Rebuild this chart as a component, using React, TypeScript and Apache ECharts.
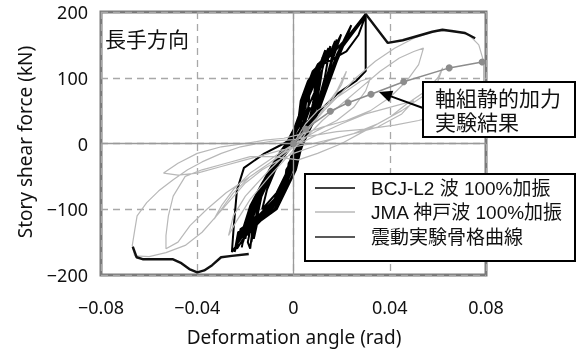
import React, { useEffect, useRef } from "react";
import * as echarts from "echarts";

// ---- data ----
const xTicks = [-0.08, -0.04, 0, 0.04, 0.08];
const yTicks = [-200, -100, 0, 100, 200];

const titleText = "長手方向";
const xTitle = "Deformation angle (rad)";
const yTitle = "Story shear force (kN)";
const legendNames = ["BCJ-L2 波 100%加振", "JMA 神戸波 100%加振", "震動実験骨格曲線"];
const calloutLines = ["軸組静的加力", "実験結果"];

// BCJ-L2 wave 100% (black hysteresis loops)
const bcjL2Data: number[][] = [
  [0, 0], [0.004, 25], [0.007, 55], [0.005, 35], [0, 5], [-0.006, -30], [-0.012, -70], [-0.017, -110], [-0.021, -140], [-0.0256, -165],
  [-0.0248, -125], [-0.0235, -71], [-0.0206, -37], [-0.012, -15], [-0.004, 0], [0.004, 20], [0.010, 60], [0.016, 110], [0.020, 145], [0.0297, 192],
  [0.027, 165], [0.022, 140], [0.012, 120], [0.007, 90], [0.006, 50], [0.002, 15], [-0.004, -15], [-0.010, -45], [-0.015, -80], [-0.019, -115], [-0.022, -145],
  [-0.019, -120], [-0.009, -95], [-0.003, -60], [0.001, -25], [0.004, 5], [0.010, 45], [0.014, 85], [0.018, 125], [0.022, 160], [0.030, 197],
  [0.030, 150], [0.030, 110], [0.026, 95], [0.018, 75], [0.011, 50], [0.005, 20], [-0.002, -10], [-0.008, -40], [-0.013, -75], [-0.017, -110], [-0.020, -140], [-0.0235, -160],
  [-0.022, -130], [-0.012, -105], [-0.006, -75], [-0.002, -45], [0, -15], [0.006, 15], [0.011, 55], [0.014, 95], [0.018, 135], [0.024, 180],
  [0.022, 160], [0.017, 140], [0.009, 110], [0.005, 70], [0.003, 30], [-0.002, 0], [-0.008, -30], [-0.013, -60], [-0.018, -95], [-0.021, -130], [-0.0245, -165],
  [-0.023, -135], [-0.016, -115], [-0.008, -85], [-0.003, -50], [-0.001, -20], [0.005, 10], [0.010, 45], [0.013, 85], [0.016, 125], [0.0198, 166],
  [0.017, 145], [0.010, 120], [0.006, 90], [0.005, 55], [0.001, 20], [-0.005, -10], [-0.010, -40], [-0.015, -75], [-0.019, -110], [-0.021, -150],
  [-0.019, -125], [-0.009, -100], [-0.004, -70], [0, -35], [0.002, -5], [0.008, 30], [0.012, 70], [0.015, 115], [0.0173, 156],
  [0.015, 135], [0.008, 110], [0.005, 80], [0.004, 45], [0, 10], [-0.006, -20], [-0.011, -50], [-0.016, -90], [-0.020, -130], [-0.0215, -158],
  [-0.020, -130], [-0.012, -110], [-0.006, -80], [-0.001, -45], [0.001, -10], [0.006, 20], [0.010, 60], [0.013, 100], [0.0153, 148],
  [0.013, 125], [0.007, 100], [0.004, 70], [0.003, 40], [-0.002, 5], [-0.007, -25], [-0.012, -55], [-0.016, -90], [-0.018, -130],
  [-0.012, -105], [-0.007, -80], [-0.002, -50], [0, -15], [0.005, 15], [0.009, 50], [0.011, 90], [0.0132, 142],
  [0.011, 120], [0.006, 95], [0.003, 65], [0.002, 35], [-0.003, 0], [-0.009, -35], [-0.014, -70], [-0.017, -105], [-0.019, -140],
  [-0.014, -115], [-0.008, -90], [-0.003, -60], [-0.002, -30], [0.003, 0], [0.007, 35], [0.009, 75], [0.0103, 122],
  [0.009, 105], [0.005, 80], [0.003, 50], [0, 20], [-0.005, -15], [-0.010, -45], [-0.014, -80], [-0.016, -120],
  [-0.010, -95], [-0.005, -70], [-0.001, -40], [0.001, -10], [0.005, 20], [0.008, 55], [0.010, 95], [0.012, 130],
  [0.010, 110], [0.006, 80], [0.004, 50], [0.001, 20], [-0.004, -10], [-0.009, -40], [-0.013, -75], [-0.015, -110], [-0.0165, -145],
  [-0.015, -120], [-0.008, -100], [-0.004, -75], [0, -45], [0.002, -15], [0.006, 15], [0.008, 50], [0.009, 90], [0.0095, 105],
  [0.008, 85], [0.005, 60], [0.002, 30], [-0.002, 0], [-0.007, -30], [-0.012, -65], [-0.015, -100], [-0.0175, -150],
  [-0.0165, -125], [-0.007, -100], [-0.003, -70], [0.001, -40], [0.003, -10], [0.006, 20], [0.009, 60], [0.011, 100], [0.014, 140], [0.0145, 145],
  [0.012, 125], [0.008, 95], [0.005, 60], [0.001, 25], [-0.004, -5], [-0.009, -35], [-0.014, -70], [-0.018, -105], [-0.020, -145],
  [-0.019, -120], [-0.011, -100], [-0.005, -75], [-0.001, -45], [0.001, -15], [0.006, 15], [0.010, 50], [0.013, 90], [0.016, 130], [0.018, 158],
  [0.016, 140], [0.010, 115], [0.006, 85], [0.004, 50], [0, 15], [-0.005, -15], [-0.010, -45], [-0.014, -80], [-0.017, -115], [-0.019, -150], [-0.018, -160],
  [-0.017, -130], [-0.009, -100], [-0.004, -70], [-0.003, -40], [0.002, -10], [0.006, 25], [0.008, 60], [0.009, 80],
  [0.006, 55], [0.002, 25], [-0.002, -5], [-0.007, -35], [-0.011, -70], [-0.013, -100],
  [-0.007, -75], [-0.003, -45], [0, -15], [0.004, 15], [0.006, 35], [0.003, 15], [-0.001, -5], [0, 0],
];

// JMA Kobe wave 100% (light grey loops)
const jmaData: number[][] = [
  [0, 0], [0.005, 30], [0.010, 50], [0.016, 65], [0.022, 80], [0.028, 95], [0.032, 100],
  [0.030, 80], [0.025, 55], [0.018, 35], [0.010, 20], [0.003, 5], [-0.004, -10],
  [-0.010, -25], [-0.018, -45], [-0.025, -70], [-0.030, -95], [-0.033, -115],
  [-0.030, -100], [-0.025, -75], [-0.018, -50], [-0.010, -30], [-0.003, -10], [0.003, 10],
  [0.010, 40], [0.018, 70], [0.026, 100], [0.034, 125], [0.042, 145], [0.050, 160], [0.058, 170], [0.066, 172],
  [0.073, 165], [0.077, 150], [0.079, 125], [0.079, 95], [0.076, 78], [0.070, 60], [0.062, 45], [0.052, 35],
  [0.042, 28], [0.030, 22], [0.018, 18], [0.008, 12], [0, 6],
  [-0.008, 4], [-0.015, 0], [-0.022, -5], [-0.030, -15], [-0.038, -28], [-0.044, -40], [-0.050, -55], [-0.056, -72],
  [-0.061, -90], [-0.065, -110], [-0.066, -132], [-0.067, -155], [-0.066, -171], [-0.060, -172], [-0.053, -166],
  [-0.045, -155], [-0.038, -135], [-0.032, -110], [-0.026, -85], [-0.020, -60], [-0.013, -40], [-0.006, -25], [0, -15], [0.008, -5],
  [0.015, 5], [0.025, 15], [0.035, 30], [0.045, 50], [0.055, 75], [0.060, 95], [0.062, 115],
  [0.060, 100], [0.055, 80], [0.047, 60], [0.040, 40], [0.030, 20], [0.020, 0], [0.010, -15], [0.002, -25],
  [-0.008, -20], [-0.018, -20], [-0.028, -30], [-0.038, -40], [-0.045, -50], [-0.050, -80], [-0.052, -110], [-0.053, -140], [-0.053, -160],
  [-0.048, -150], [-0.043, -125], [-0.036, -100], [-0.028, -75], [-0.020, -55], [-0.012, -35], [-0.004, -15], [0.004, 5],
  [0.012, 35], [0.020, 60], [0.028, 85], [0.036, 110], [0.044, 130], [0.050, 140], [0.054, 145],
  [0.052, 120], [0.047, 95], [0.040, 70], [0.032, 50], [0.022, 35], [0.012, 25], [0.004, 15], [-0.004, 8],
  [-0.012, 5], [-0.020, 0], [-0.030, -5], [-0.040, -15], [-0.048, -30], [-0.054, -45],
  [-0.048, -48], [-0.040, -45], [-0.030, -35], [-0.020, -25], [-0.010, -15], [0, -5], [0.008, 10],
  [0.020, 30], [0.030, 45], [0.040, 55], [0.050, 65], [0.045, 45], [0.035, 25], [0.020, 10], [0.008, 0], [0, -5],
  [-0.010, -40], [-0.020, -80], [-0.025, -110], [-0.027, -140], [-0.024, -120], [-0.018, -85], [-0.010, -50], [0, -10],
  [0.008, 30], [0.015, 60], [0.020, 90], [0.022, 110], [0.018, 80], [0.010, 40], [0, 0],
];

// Shaking-test skeleton curve (envelope)
const skeletonPosData: number[][] = [
  [0.030, 197], [0.0392, 153], [0.0454, 157], [0.0577, 170], [0.0619, 173], [0.0713, 168], [0.0755, 160],
];
const skeletonNegData: number[][] = [
  [-0.0186, -168], [-0.0256, -171], [-0.0301, -173], [-0.0338, -185], [-0.0371, -193], [-0.040, -196],
  [-0.0433, -191], [-0.0466, -182], [-0.0503, -176], [-0.0627, -176], [-0.0652, -173], [-0.0668, -157],
];

// Frame static loading test result
const staticTestData: number[][] = [
  [0, 0], [0.005, 22], [0.0153, 49], [0.0227, 62], [0.0322, 75], [0.0458, 94], [0.0647, 115], [0.0784, 124],
];

const fmtTick = (v: number, digits: number) => {
  if (Math.abs(v) < 1e-9) return "0";
  return (v < 0 ? "\u2212" : "") + Math.abs(v).toFixed(digits);
};

export default function App() {
  const ref = useRef<HTMLDivElement>(null);
  useEffect(() => {
    if (!ref.current) return;
    const chart = echarts.init(ref.current, undefined, { renderer: "svg" });
    const latin = "'Noto Sans', 'Liberation Sans', sans-serif";
    const boxFont = "'Liberation Sans', 'Noto Sans CJK JP', sans-serif";
    const cjk = "'Noto Sans CJK JP', 'Noto Sans', sans-serif";
    const lineSeries = (name: string, data: number[][], color: string, width: number, z: number) => ({
      name, type: "line", data, z, showSymbol: false, symbol: "none", silent: true,
      lineStyle: { color, width }, animation: false,
    });
    chart.setOption({
      animation: false,
      grid: { left: 101, right: 91, top: 12, bottom: 79, show: true, borderColor: "#7a7a7a", borderWidth: 3, backgroundColor: "#fff" },
      xAxis: {
        type: "value", min: xTicks[0], max: xTicks[xTicks.length - 1], interval: 0.04,
        axisLine: { show: false }, axisTick: { show: false },
        axisLabel: { margin: 23, fontSize: 18, color: "#111", fontFamily: latin, formatter: (v: number) => fmtTick(v, 2) },
        splitLine: { show: true, lineStyle: { type: [7, 5], color: "#a8a8a8", width: 1.3 } },
      },
      yAxis: {
        type: "value", min: yTicks[0], max: yTicks[yTicks.length - 1], interval: 100,
        axisLine: { show: false }, axisTick: { show: false },
        axisLabel: { margin: 13, fontSize: 18, color: "#111", fontFamily: latin, formatter: (v: number) => fmtTick(v, 0) },
        splitLine: { show: true, lineStyle: { type: [7, 5], color: "#a8a8a8", width: 1.3 } },
      },
      series: [
        {
          ...lineSeries("zero", [], "#999", 1, 1),
          markLine: {
            silent: true, symbol: "none", label: { show: false },
            lineStyle: { type: "solid", color: "#9a9a9a", width: 1.3 },
            data: [{ xAxis: 0 }, { yAxis: 0 }],
          },
        },
        lineSeries(legendNames[0], bcjL2Data, "#000", 2, 2),
        lineSeries(legendNames[1], jmaData, "#b8b8b8", 1.2, 3),
        lineSeries(legendNames[2] + "+", skeletonPosData, "#111", 2.4, 5),
        lineSeries(legendNames[2], skeletonNegData, "#111", 2.4, 5),
        {
          name: "static", type: "line", data: staticTestData, z: 6, silent: true,
          symbol: "circle", symbolSize: 7, showSymbol: true,
          itemStyle: { color: "#8c8c8c" }, lineStyle: { color: "#8c8c8c", width: 1.5 },
        },
      ],
      graphic: [
        { type: "text", left: 105, top: 27, z: 20, style: { text: titleText, font: `21px ${cjk}`, fill: "#111" } },
        {
          type: "text", x: 25, y: 142, rotation: Math.PI / 2, z: 20,
          style: { text: yTitle, font: `19px ${latin}`, fill: "#111", align: "center", verticalAlign: "middle" },
        },
        {
          type: "text", x: 294, y: 337, z: 20,
          style: { text: xTitle, font: `19px ${latin}`, fill: "#111", align: "center", verticalAlign: "middle" },
        },
        // legend box
        { type: "rect", z: 20, shape: { x: 305, y: 174, width: 270, height: 87 }, style: { fill: "#fff", stroke: "#000", lineWidth: 2 } },
        { type: "line", z: 21, shape: { x1: 315, y1: 188, x2: 355, y2: 188 }, style: { stroke: "#000", lineWidth: 1.6 } },
        { type: "line", z: 21, shape: { x1: 315, y1: 212, x2: 355, y2: 212 }, style: { stroke: "#b8b8b8", lineWidth: 1.6 } },
        { type: "line", z: 21, shape: { x1: 315, y1: 237, x2: 355, y2: 237 }, style: { stroke: "#222", lineWidth: 1.6 } },
        { type: "text", z: 21, x: 371, y: 188, style: { text: legendNames[0], font: `19px ${boxFont}`, lineHeight: 21, fill: "#111", verticalAlign: "middle" } },
        { type: "text", z: 21, x: 371, y: 212, style: { text: legendNames[1], font: `19px ${boxFont}`, lineHeight: 21, fill: "#111", verticalAlign: "middle" } },
        { type: "text", z: 21, x: 371, y: 237, style: { text: legendNames[2], font: `19px ${boxFont}`, lineHeight: 21, fill: "#111", verticalAlign: "middle" } },
        // callout
        { type: "rect", z: 20, shape: { x: 423, y: 82, width: 152, height: 55 }, style: { fill: "#fff", stroke: "#000", lineWidth: 2 } },
        { type: "text", z: 21, x: 435, y: 98, style: { text: calloutLines[0], font: `21px ${boxFont}`, lineHeight: 22, fill: "#111", verticalAlign: "middle" } },
        { type: "text", z: 21, x: 435, y: 122, style: { text: calloutLines[1], font: `21px ${boxFont}`, lineHeight: 22, fill: "#111", verticalAlign: "middle" } },
        { type: "line", z: 21, shape: { x1: 423, y1: 108, x2: 391, y2: 96.4 }, style: { stroke: "#000", lineWidth: 2 } },
        { type: "polygon", z: 21, shape: { points: [[379, 92], [393.3, 90.8], [389.2, 102.1]] }, style: { fill: "#000" } },
      ],
    });
    return () => chart.dispose();
  }, []);
  return <div ref={ref} style={{ position: "fixed", left: 0, top: 0, width: 577, height: 354 }} />;
}
